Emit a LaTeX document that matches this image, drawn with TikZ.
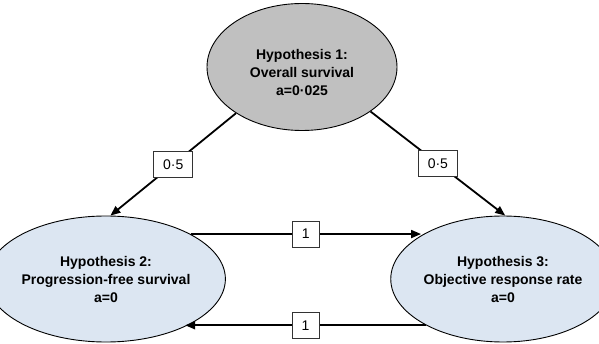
\documentclass[tikz,border=0pt]{standalone}
\usepackage{fontspec}
\setmainfont{Liberation Sans}
\usetikzlibrary{shapes.geometric,arrows.meta}
\definecolor{hgray}{RGB}{192,192,192}
\definecolor{hblue}{RGB}{220,230,242}
\tikzset{
  hyp/.style={ellipse, draw=black, line width=0.9pt, inner sep=0pt,
    align=center, font=\fontsize{14}{18}\selectfont\bfseries},
  hyptext/.style={align=center, font=\fontsize{14}{18}\selectfont\bfseries},
  wlabel/.style={draw=black!80, line width=0.8pt, fill=white, inner sep=0pt,
    minimum height=26pt, font=\fontsize{14}{16}\selectfont},
  conn/.style={line width=1.8pt, -{Triangle[length=10pt,width=8pt]}},
}
\begin{document}
\begin{tikzpicture}[x=1pt,y=-1pt]
\useasboundingbox (0,0) rectangle (599,344);
\node[hyp, fill=hgray, minimum width=190pt, minimum height=127pt,
  label={[hyptext, yshift=-6pt]center:Hypothesis 1:\\Overall survival\\a=0·025}] (h1) at (302,67) {};
\node[hyp, fill=hblue, minimum width=196pt, minimum height=126pt] (h2) at (106,279)
  {Hypothesis 2:\\Progression-free survival\\a=0};
\node[hyp, fill=hblue, minimum width=194pt, minimum height=126pt] (h3) at (503,279)
  {Hypothesis 3:\\Objective response rate\\a=0};

\draw[conn] (h1.215.6) -- node[wlabel, minimum width=39pt] (l1) {0·5} (h2.86);
\draw[conn] (h1.327.4) -- node[wlabel, minimum width=39pt] (l2) {0·5} (h3.88);
\draw[conn] (h2.28) -- node[wlabel, minimum width=27pt] (l3) {1} (h2.28 -| h3.152);
\draw[conn] (h3.211) -- node[wlabel, minimum width=27pt] (l4) {1} (h3.211 -| h2.329);
\end{tikzpicture}
\end{document}
